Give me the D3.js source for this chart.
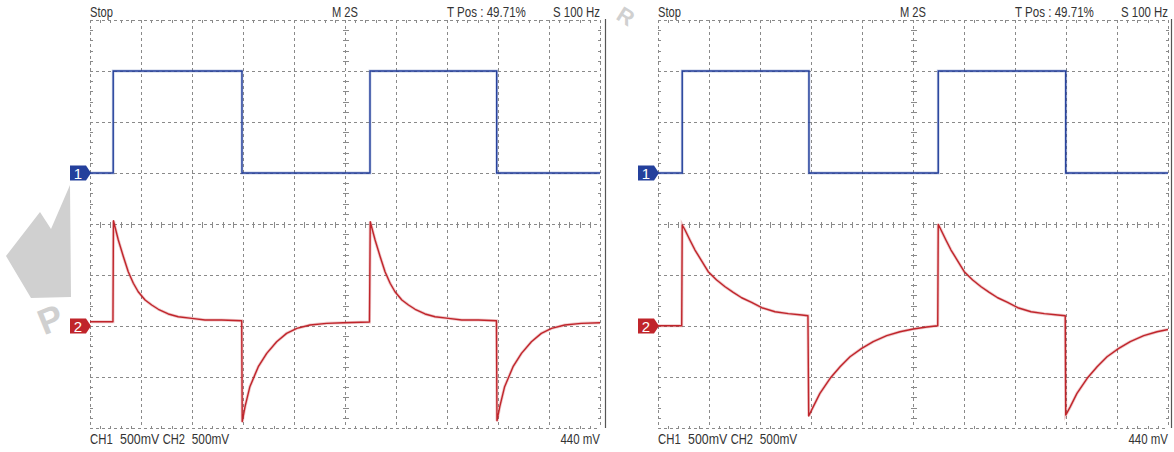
<!DOCTYPE html>
<html>
<head>
<meta charset="utf-8">
<script src="https://cdn.jsdelivr.net/npm/d3@7"></script>
<style>
  html, body { margin: 0; padding: 0; background: #fff; }
  svg { display: block; }
  text { font-family: "Liberation Sans Narrow", "Arial Narrow", "Liberation Sans", Arial, sans-serif; }
</style>
</head>
<body>
<svg id="chart" width="1174" height="452"></svg>
<script>
// ---------------- DATA ----------------
// time in seconds (M 2S -> 2 s/div, 10 div), voltage in volts (500 mV/div)
const timeDomain = [0, 20];
const divDomain = [-4, 4];
const voltsPerDiv = 0.5;
const ch1Offset = 1;    // ground marker 1, in divisions from centre
const ch2Offset = -2;   // ground marker 2

const headerLabels = ["Stop", "M 2S", "T Pos : 49.71%", "S 100 Hz"];
const footerLabels = ["CH1", "500mV", "CH2", "500mV", "440 mV"];
const markerLabels = ["1", "2"];

// Left screenshot
const ch1Left = [[0,0],[0.91,0],[0.91,1.0],[5.96,1.0],[5.96,0],[10.98,0],[10.98,1.0],[15.95,1.0],[15.95,0],[20,0]];
const ch2Left = [
  [0,0.042],[0.90,0.042],[0.92,1.032],[1.11,0.843],[1.31,0.679],[1.50,0.532],[1.70,0.419],[1.89,0.336],
  [2.16,0.255],[2.42,0.206],[2.68,0.164],[3.07,0.118],[3.46,0.091],[3.99,0.075],[4.51,0.059],[5.16,0.059],
  [5.95,0.052],[5.97,-0.938],[6.08,-0.791],[6.27,-0.595],[6.60,-0.399],[6.93,-0.268],[7.32,-0.154],
  [7.71,-0.072],[8.11,-0.023],[8.63,0.010],[9.28,0.026],[9.93,0.032],[10.96,0.039],
  [10.99,1.022],[11.18,0.843],[11.38,0.679],[11.57,0.532],[11.77,0.419],[11.96,0.336],[12.23,0.255],
  [12.49,0.206],[12.75,0.164],[13.14,0.118],[13.53,0.091],[14.06,0.075],[14.58,0.059],[15.23,0.059],
  [15.94,0.052],[15.96,-0.93],[16.07,-0.791],[16.26,-0.595],[16.59,-0.399],[16.92,-0.268],[17.31,-0.154],
  [17.70,-0.072],[18.10,-0.023],[18.62,0.010],[19.27,0.026],[20,0.032]
];

// Right screenshot
const ch1Right = [[0,0],[0.95,0],[0.95,1.0],[5.92,1.0],[5.92,0],[10.99,0],[10.99,1.0],[15.99,1.0],[15.99,0],[20,0]];
const ch2Right = [
  [0,0.003],[0.93,0.003],[0.95,0.990],[1.06,0.941],[1.25,0.843],[1.45,0.745],[1.65,0.664],[1.97,0.532],
  [2.30,0.451],[2.63,0.385],[2.95,0.330],[3.28,0.277],[3.67,0.232],[4.07,0.179],[4.59,0.140],[5.11,0.121],
  [5.64,0.108],[5.88,0.101],[5.91,-0.882],[6.09,-0.791],[6.35,-0.660],[6.75,-0.513],[7.14,-0.399],
  [7.53,-0.301],[7.99,-0.219],[8.44,-0.154],[8.97,-0.095],[9.49,-0.056],[10.01,-0.029],[10.54,-0.010],
  [10.97,0.003],[10.99,0.997],[11.10,0.941],[11.29,0.843],[11.49,0.745],[11.69,0.664],[12.01,0.532],
  [12.34,0.451],[12.67,0.385],[12.99,0.330],[13.32,0.277],[13.71,0.232],[14.11,0.179],[14.63,0.140],
  [15.15,0.121],[15.68,0.108],[15.97,0.101],[15.99,-0.873],[16.17,-0.791],[16.43,-0.660],[16.83,-0.513],
  [17.22,-0.399],[17.61,-0.301],[18.07,-0.219],[18.52,-0.154],[19.05,-0.095],[19.57,-0.056],[20,-0.034]
];

// ---------------- LAYOUT / STYLE ----------------
const panels = [
  { x0: 90,  ch1: ch1Left,  ch2: ch2Left,  border: 605.5 },
  { x0: 658, ch1: ch1Right, ch2: ch2Right, border: 1171.5 }
];
const gridW = 510, gridTop = 20, gridBottom = 428;
const blue = "#24409c", red = "#c0252b";
const gridColor = "#8a8a8a", textColor = "#333";

const svg = d3.select("#chart");
svg.append("rect").attr("width", 1174).attr("height", 452).attr("fill", "#fff");

// Watermark (light grey decoration)
const wm = svg.append("g").attr("fill", "#d0d0d0");
wm.append("path").attr("d", "M70,185 L71,297 L31,298 L6,256 L40,212 L51,229 Z");
wm.append("text").attr("x", 50).attr("y", 332).attr("text-anchor", "middle")
  .attr("font-size", 36).attr("font-weight", "bold")
  .attr("font-family", "Liberation Sans, Arial, sans-serif")
  .attr("transform", "rotate(-22,50,318)").text("P");
wm.append("text").attr("x", 626).attr("y", 24).attr("text-anchor", "middle")
  .attr("font-size", 22).attr("font-weight", "bold")
  .attr("font-family", "Liberation Sans, Arial, sans-serif")
  .attr("transform", "rotate(32,626,16)").text("R");

panels.forEach(p => {
  const x = d3.scaleLinear().domain(timeDomain).range([p.x0, p.x0 + gridW]);
  const y = d3.scaleLinear().domain(divDomain).range([gridBottom, gridTop]);
  const g = svg.append("g");

  // ----- grid -----
  const grid = g.append("g").attr("stroke", gridColor).attr("stroke-width", 1)
    .attr("shape-rendering", "crispEdges");
  const xMaj = d3.range(timeDomain[0], timeDomain[1] + 0.001, 2);
  const yMaj = d3.range(divDomain[0], divDomain[1] + 0.001, 1);
  grid.selectAll("line.v").data(xMaj).join("line")
    .attr("x1", d => Math.round(x(d)) + 0.5).attr("x2", d => Math.round(x(d)) + 0.5)
    .attr("y1", gridTop).attr("y2", gridBottom).attr("stroke-dasharray", "3,3");
  grid.selectAll("line.h").data(yMaj).join("line")
    .attr("y1", d => Math.round(y(d)) + 0.5).attr("y2", d => Math.round(y(d)) + 0.5)
    .attr("x1", p.x0).attr("x2", p.x0 + gridW).attr("stroke-dasharray", "3,3");

  // minor ticks
  const xMin = d3.range(timeDomain[0], timeDomain[1] + 0.001, 0.4).filter(t => Math.abs(t / 2 - Math.round(t / 2)) > 0.01);
  const yMin = d3.range(divDomain[0], divDomain[1] + 0.001, 0.2).filter(v => Math.abs(v - Math.round(v)) > 0.01);
  const tl = 3;
  const tick = (x1, y1, x2, y2) => grid.append("line").attr("x1", x1).attr("y1", y1).attr("x2", x2).attr("y2", y2);
  xMin.forEach(t => {
    const xx = Math.round(x(t)) + 0.5;
    tick(xx, gridTop, xx, gridTop + tl);
    tick(xx, gridBottom + 1, xx, gridBottom + 1 - tl);
    const yc = Math.round(y(0)) + 0.5;
    tick(xx, yc - tl, xx, yc + tl);
  });
  yMin.forEach(v => {
    const yy = Math.round(y(v)) + 0.5;
    tick(p.x0, yy, p.x0 + tl, yy);
    tick(p.x0 + gridW + 1, yy, p.x0 + gridW + 1 - tl, yy);
    const xc = Math.round(x(10)) + 0.5;
    tick(xc - tl, yy, xc + tl, yy);
  });

  // border line of the screenshot
  g.append("line").attr("x1", p.border).attr("x2", p.border).attr("y1", 19).attr("y2", 428)
    .attr("stroke", "#555").attr("stroke-width", 1.2);

  // ----- traces -----
  const line = off => d3.line().x(d => x(d[0])).y(d => y(off + d[1] / voltsPerDiv));
  g.append("path").datum(p.ch2).attr("d", line(ch2Offset)).attr("fill", "none")
    .attr("stroke", red).attr("stroke-opacity", 0.25).attr("stroke-width", 3);
  g.append("path").datum(p.ch2).attr("d", line(ch2Offset)).attr("fill", "none")
    .attr("stroke", red).attr("stroke-width", 1.4).attr("stroke-linejoin", "round");
  g.append("path").datum(p.ch1).attr("d", line(ch1Offset)).attr("fill", "none")
    .attr("stroke", blue).attr("stroke-opacity", 0.25).attr("stroke-width", 2.8);
  g.append("path").datum(p.ch1).attr("d", line(ch1Offset)).attr("fill", "none")
    .attr("stroke", blue).attr("stroke-width", 1.4);

  // ----- channel markers -----
  [[ch1Offset, blue, markerLabels[0]], [ch2Offset, red, markerLabels[1]]].forEach(([off, col, lab]) => {
    const yc = y(off);
    const xl = p.x0 - 20, xr = p.x0 - 4, xt = p.x0 + 1;
    g.append("path").attr("d", `M${xl},${yc - 7.5}L${xr},${yc - 7.5}L${xt},${yc}L${xr},${yc + 7.5}L${xl},${yc + 7.5}Z`)
      .attr("fill", col);
    g.append("text").attr("x", xl + 8).attr("y", yc + 5.5).attr("text-anchor", "middle")
      .attr("fill", "#fff").attr("font-size", 15).text(lab);
  });

  // ----- texts (horizontally scaled to the measured widths of the reference) -----
  const txt = (str, xx, yy, w, anchor) => {
    const t = g.append("text").attr("x", 0).attr("y", 0).attr("fill", textColor)
      .attr("font-size", 14).text(str);
    const natural = t.node().getComputedTextLength() || w;
    const sx = w / natural;
    const xStart = anchor === "end" ? xx - w : anchor === "middle" ? xx - w / 2 : xx;
    t.attr("transform", `translate(${xStart},${yy}) scale(${sx},1)`);
  };
  txt(headerLabels[0], p.x0, 16.5, 23);
  txt(headerLabels[1], p.x0 + 255, 16.5, 26, "middle");
  txt(headerLabels[2], p.x0 + 357, 16.5, 79);
  txt(headerLabels[3], p.x0 + 510, 16.5, 47, "end");
  txt(footerLabels[0], p.x0, 444, 22.7);
  txt(footerLabels[1], p.x0 + 30, 444, 39.3);
  txt(footerLabels[2], p.x0 + 72.7, 444, 22.3);
  txt(footerLabels[3], p.x0 + 101.7, 444, 37.6);
  txt(footerLabels[4], p.x0 + 510, 444, 39.6, "end");
});
</script>
</body>
</html>
